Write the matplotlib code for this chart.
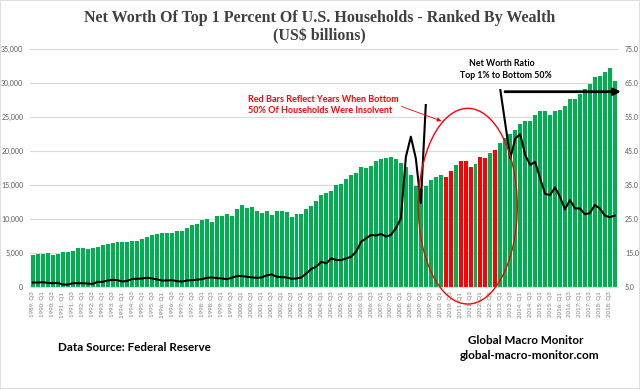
import numpy as np
import matplotlib
matplotlib.use("Agg")
import matplotlib.pyplot as plt
from matplotlib.patches import Ellipse, Rectangle

# ---------------- data ----------------
start_year, start_q = 1989, 3
n_quarters = 118  # 1989 Q3 .. 2018 Q4
quarters = []
y, q = start_year, start_q
for _ in range(n_quarters):
    quarters.append(f"{y}: Q{q}")
    q += 1
    if q > 4:
        q = 1
        y += 1

# Net worth of top 1% (US$ billions)
net_worth_top1 = [
    4750, 4900, 4900, 5000, 4750, 4950, 5240, 5240, 5390, 5730,
    5730, 5580, 5730, 5970, 6170, 6320, 6470, 6660, 6660, 6660,
    6760, 6860, 7100, 7400, 7640, 7840, 8040, 8040, 8040, 8230,
    8230, 8670, 9110, 9310, 9850, 10090, 9560, 10440, 10440, 10735,
    10490, 11560, 12060, 11710, 11860, 11270, 10880, 11270, 10680, 11270,
    11270, 11070, 10390, 10735, 10735, 11560, 11960, 12740, 13550, 13820,
    14210, 15090, 15240, 15880, 16470, 16810, 17740, 17590, 17840, 18530,
    18820, 19020, 19120, 18850, 18230, 17650, 16550, 14900, 14450, 14900,
    15800, 16150, 16520, 16220, 17100, 17940, 18510, 18600, 17700, 18150,
    19150, 19020, 19800, 20240, 21170, 21910, 22500, 23130, 23970, 24460,
    24460, 25340, 25970, 25970, 25340, 25930, 26070, 26660, 27650, 27650,
    28430, 29120, 29850, 30880, 31070, 31710, 32200, 30380,
]

# Net worth ratio, top 1% to bottom 50% (gaps where bottom 50% insolvent)
nan = np.nan
ratio_top1_bottom50 = [
    6.4, 6.4, 6.5, 6.3, 6.2, 6.3, 5.8, 5.8, 6.2, 6.2,
    6.2, 6.1, 6.0, 6.6, 6.6, 7.0, 7.2, 7.1, 6.7, 6.9,
    7.5, 7.5, 7.6, 7.8, 7.6, 7.3, 7.0, 7.0, 7.1, 6.8,
    6.7, 7.0, 7.1, 7.25, 7.4, 7.8, 7.9, 7.7, 7.6, 7.4,
    7.8, 8.3, 8.3, 8.1, 7.9, 7.8, 7.9, 8.5, 8.8, 8.1,
    8.0, 7.9, 7.5, 7.6, 7.9, 9.1, 10.4, 11.1, 12.5, 12.05,
    13.5, 13.0, 13.0, 13.5, 14.0, 15.5, 18.4, 19.4, 20.4, 20.2,
    20.7, 19.9, 20.4, 22.4, 25.3, 43.4, 49.3, 42.9, 29.8, 58.6,
    nan, nan, nan, nan, nan, nan, nan, nan, nan, nan,
    nan, nan, nan, nan, 63.0, 53.0, 42.9, 48.8, 50.0, 43.9,
    41.0, 41.9, 37.0, 32.5, 32.1, 34.4, 31.6, 27.9, 30.7, 28.2,
    28.2, 26.5, 26.8, 29.2, 28.2, 26.1, 25.6, 26.1,
]

insolvent_quarters = ["2010: Q2", "2010: Q3", "2011: Q1", "2011: Q2",
                      "2011: Q3", "2012: Q1", "2012: Q2", "2012: Q4"]

left_ticks = [0, 5000, 10000, 15000, 20000, 25000, 30000, 35000]
right_ticks = [5.0, 15.0, 25.0, 35.0, 45.0, 55.0, 65.0, 75.0]

# ---------------- figure ----------------
W, H = 640, 389
fig = plt.figure(figsize=(W / 100, H / 100), dpi=100)

def fx(px):
    return px / W

def fy(py):
    return 1 - py / H

ax_l, ax_r = 30.0, 617.7
ax_t, ax_b = 49.3, 287.3
ax = fig.add_axes([fx(ax_l), fy(ax_b), fx(ax_r) - fx(ax_l), fy(ax_t) - fy(ax_b)])
ax2 = ax.twinx()

x = np.arange(n_quarters)
colors = ["#FF0000" if qq in insolvent_quarters else "#00B050" for qq in quarters]
ax.bar(x, net_worth_top1, width=0.8, color=colors, zorder=2)

ax.set_xlim(-0.6, n_quarters - 0.4)
ax.set_ylim(0, 35000)
ax.set_yticks(left_ticks)
ax.set_yticklabels([f"{v:,}" for v in left_ticks])
ax.grid(axis="y", color="#d9d9d9", lw=0.8, zorder=0)
ax.set_axisbelow(True)

ax.set_xticks(x[::2])
ax.set_xticklabels(quarters[::2], rotation=90, va="top", ha="center")

for a in (ax, ax2):
    for s in a.spines.values():
        s.set_visible(False)
ax.spines["bottom"].set_visible(True)
ax.spines["bottom"].set_color("#d9d9d9")

ax.tick_params(axis="y", length=0, pad=4.8, labelsize=5, labelcolor="#595959")
ax.tick_params(axis="x", length=0, pad=3.2, labelsize=4.4, labelcolor="#7f7f7f")
for t in ax.get_xticklabels() + ax.get_yticklabels():
    t.set_fontfamily("Lato")

ax2.plot(x, ratio_top1_bottom50, color="black", lw=1.5, zorder=3)
ax2.set_ylim(5, 75)
ax2.set_yticks(right_ticks)
ax2.set_yticklabels([f"{v:.1f}" for v in right_ticks])
ax2.tick_params(axis="y", length=0, pad=5.2, labelsize=5, labelcolor="#595959")
for t in ax2.get_yticklabels():
    t.set_fontfamily("Lato")

# ---------------- texts ----------------
renderer = fig.canvas.get_renderer()

def fit(t, target_w):
    bb = t.get_window_extent(renderer)
    t.set_fontsize(t.get_fontsize() * target_w / bb.width)

title_kw = dict(family="Liberation Serif", weight="bold", color="#404040", ha="center", va="baseline")
t1 = fig.text(fx(319.5), fy(21.5), "Net Worth Of Top 1 Percent Of U.S. Households - Ranked By Wealth", fontsize=10, **title_kw)
fit(t1, 471)
t2 = fig.text(fx(319), fy(40), "(US$ billions)", fontsize=10, **title_kw)
fit(t2, 92)

red_kw = dict(family="Lato", weight="bold", color="#FF0000", ha="left", va="center")
r1 = fig.text(fx(247.7), fy(99), "Red Bars Reflect Years When Bottom", fontsize=6, **red_kw)
fit(r1, 150.7)
r2 = fig.text(fx(247.7), fy(110.5), "50% Of Households Were Insolvent", fontsize=6, **red_kw)
r2.set_fontsize(r1.get_fontsize())

blk_kw = dict(family="Lato", weight="bold", color="black", va="center", ha="center")
n1 = fig.text(fx(501.7), fy(64), "Net Worth Ratio", fontsize=6, **blk_kw)
n2 = fig.text(fx(505.5), fy(75.7), "Top 1% to Bottom 50%", fontsize=6, **blk_kw)
fit(n2, 92.4)
n1.set_fontsize(n2.get_fontsize())

src_kw = dict(family="Lato", weight="bold", color="black", va="center", ha="left")
s1 = fig.text(fx(58.3), fy(347.7), "Data Source: Federal Reserve", fontsize=8, **src_kw)
fit(s1, 153.4)
g1 = fig.text(fx(467.7), fy(340), "Global Macro Monitor", fontsize=8, **src_kw)
fit(g1, 115.6)
g2 = fig.text(fx(459.3), fy(355.7), "global-macro-monitor.com", fontsize=8, **src_kw)
fit(g2, 140)

# ---------------- annotations ----------------
fig.add_artist(Ellipse((fx(467.8), fy(206.2)), 99 / W, 195.7 / H,
                       transform=fig.transFigure, fill=False, ec="#FF0000", lw=1.0, zorder=5))

fig.add_artist(matplotlib.patches.FancyArrowPatch(
    (fx(399), fy(105.5)), (fx(444), fy(122)), transform=fig.transFigure,
    arrowstyle="-|>", mutation_scale=6, color="#FF0000", lw=0.6, zorder=5))

fig.add_artist(matplotlib.patches.FancyArrowPatch(
    (fx(505), fy(91.7)), (fx(621), fy(91.7)), transform=fig.transFigure,
    arrowstyle="-|>", mutation_scale=10, color="black", lw=2.0,
    shrinkA=0, shrinkB=0, zorder=5))

fig.add_artist(Rectangle((0, 0), 1, 1, transform=fig.transFigure, fill=False,
                         ec="#d9d9d9", lw=1.2, zorder=10))

fig.savefig("out.png", dpi=100)
